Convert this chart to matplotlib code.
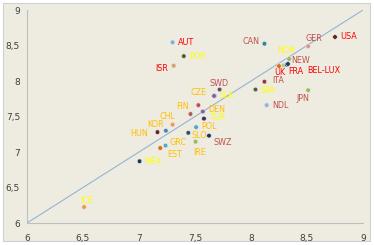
import matplotlib
matplotlib.use("Agg")
import matplotlib.pyplot as plt
from matplotlib.patches import Rectangle
from matplotlib.ticker import FuncFormatter

# country codes, x / y values, dot colours, label colours, label offsets (px)
codes = ["AUT", "POR", "ISR", "CAN", "GER", "USA", "NOR", "UK", "FRA", "BEL-LUX", "NEW",
         "ITA", "SPA", "JPN", "NDL", "SWD", "SLK", "CZE", "FIN", "DEN", "CHL", "TUR",
         "POL", "SLO", "SWZ", "IRE", "KOR", "", "HUN", "GRC", "EST", "MEX", "ICE"]
x_vals = [7.30, 7.40, 7.31, 8.12, 8.51, 8.75, 8.34, 8.25, 8.29, 8.32, 8.33,
          8.12, 8.04, 8.51, 8.14, 7.72, 7.675, 7.67, 7.53, 7.57, 7.46, 7.58,
          7.51, 7.44, 7.625, 7.505, 7.30, 7.24, 7.165, 7.237, 7.19, 7.005, 6.51]
y_vals = [8.545, 8.35, 8.215, 8.525, 8.49, 8.62, 8.31, 8.21, 8.22, 8.23, 8.24,
          7.99, 7.88, 7.87, 7.66, 7.88, 7.79, 7.79, 7.66, 7.57, 7.535, 7.47,
          7.35, 7.27, 7.23, 7.145, 7.385, 7.30, 7.28, 7.09, 7.056, 6.87, 6.225]
dot_colors = ["#7fb2d0", "#4f6228", "#d8a070", "#31849b", "#d99694", "#632523", "#9bbb59",
              "#e46c0a", "#b8cc88", "#1f3a6d", "#1f3a6d", "#953735", "#4f6228", "#9bbb59",
              "#8eb4e3", "#604a7b", "#8064a2", "#8064a2", "#c0504d", "#8064a2", "#b65858",
              "#3f3151", "#4bacc6", "#215968", "#17375e", "#9bbb59", "#f79646", "#4f81bd",
              "#632523", "#4bacc6", "#e46c0a", "#17375e", "#f79646"]
RED, MAUVE, GOLD, YEL = "#ff0000", "#c0504d", "#ffc000", "#ffff00"
label_colors = [RED, YEL, RED, MAUVE, MAUVE, RED, YEL, RED, RED, RED, MAUVE,
                MAUVE, YEL, MAUVE, MAUVE, MAUVE, YEL, GOLD, GOLD, GOLD, GOLD, YEL,
                GOLD, GOLD, MAUVE, GOLD, GOLD, GOLD, GOLD, GOLD, GOLD, YEL, YEL]
label_dx = [5, 5, -6, -5, -3, 5, -12, -5, 5, 20, 3,
            8, 5, -12, 6, -10, 5, -24, -9, 5, -15, 5,
            5, 3, 4, -2, -9, 0, -9, 4, 7, 5, -4]
label_dy = [0, 0, -3, 2, 8, 0, 8, -6, -6, -6, 3,
            1, -1, -8, 0, 6, 0, 3, -1, 2, -2, 1,
            1, -3, -7, -11, 0, 0, -1, 3, -6, 0, 7]
label_ha = ["left", "left", "right", "right", "left", "left", "left", "left", "left", "left", "left",
            "left", "left", "left", "left", "left", "left", "left", "right", "left", "right", "left",
            "left", "left", "left", "left", "right", "left", "right", "left", "left", "left", "left"]

ticks = [6, 6.5, 7, 7.5, 8, 8.5, 9]

BG = "#eeece1"
fig = plt.figure(figsize=(3.74, 2.45), dpi=100, facecolor="white")
fig.patches.append(Rectangle((3 / 374, 4 / 245), 367 / 374, 238 / 245, transform=fig.transFigure,
                             facecolor=BG, edgecolor="#d0d0d0", linewidth=0.8, zorder=-1))
ax = fig.add_axes([27 / 374, 22 / 245, 336 / 374, 213 / 245])
ax.set_facecolor(BG)
ax.patch.set_alpha(0)

ax.plot([6, 9], [6, 9], color="#95b3d7", linewidth=0.8, zorder=1)
ax.scatter(x_vals, y_vals, s=11, c=dot_colors, edgecolors="#e8e8e8", linewidths=0.4, zorder=3)

for code, x, y, c, dx, dy, ha in zip(codes, x_vals, y_vals, label_colors, label_dx, label_dy, label_ha):
    if code:
        ax.annotate(code, (x, y), xytext=(dx, dy), textcoords="offset pixels",
                    ha=ha, va="center", fontsize=5.8, color=c, zorder=4)

ax.set_xlim(6, 9)
ax.set_ylim(6, 9)
ax.set_xticks(ticks)
ax.set_yticks(ticks)
fmt = FuncFormatter(lambda v, p: f"{v:g}".replace(".", ","))
ax.xaxis.set_major_formatter(fmt)
ax.yaxis.set_major_formatter(fmt)
ax.tick_params(length=0, labelsize=6.5, labelcolor="#404040")
ax.tick_params(axis="x", pad=8)
ax.tick_params(axis="y", pad=5)
for s in ["top", "right"]:
    ax.spines[s].set_visible(False)
for s in ["left", "bottom"]:
    ax.spines[s].set_color("#bfbfbf")
    ax.spines[s].set_linewidth(0.8)

fig.savefig("out.png", dpi=100, facecolor=fig.get_facecolor())
